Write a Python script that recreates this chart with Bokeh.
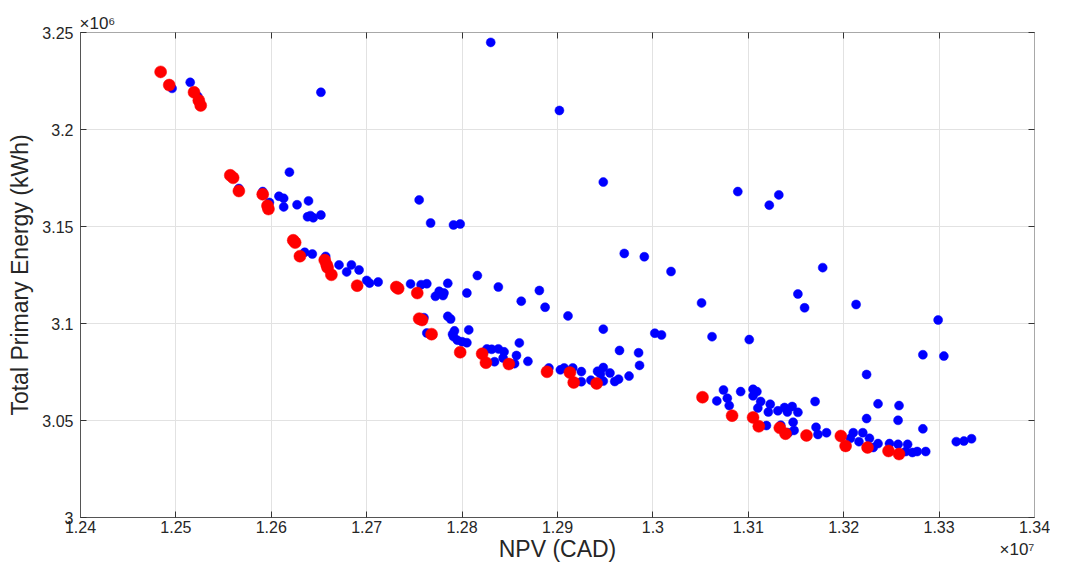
from bokeh.plotting import figure
from bokeh.models import FixedTicker, LinearAxis, Range1d, Title
from bokeh.embed import file_html
from bokeh.resources import INLINE

# ---- data: all design alternatives (blue) ----
npv_all = [
    1.2515e7, 1.2496e7, 1.2523e7, 1.2652e7, 1.2619e7, 1.2566e7, 1.2591e7, 1.2598e7, 1.2608e7, 1.2613e7,
    1.2613e7, 1.2627e7, 1.2639e7, 1.2638e7, 1.2641e7, 1.2652e7, 1.2644e7, 1.2635e7, 1.2643e7, 1.2657e7,
    1.2671e7, 1.2679e7, 1.2684e7, 1.2692e7, 1.2700e7, 1.2703e7, 1.2712e7, 1.2746e7, 1.2757e7, 1.2763e7,
    1.2785e7, 1.2772e7, 1.2776e7, 1.2781e7, 1.2780e7, 1.2755e7, 1.2767e7, 1.2791e7, 1.2798e7, 1.2830e7,
    1.2902e7, 1.2948e7, 1.2970e7, 1.2991e7, 1.3019e7, 1.2816e7, 1.2805e7, 1.2838e7, 1.2862e7, 1.2881e7,
    1.2887e7, 1.2911e7, 1.2948e7, 1.3002e7, 1.3009e7, 1.2760e7, 1.2785e7, 1.2788e7, 1.2807e7, 1.2763e7,
    1.2790e7, 1.2792e7, 1.2795e7, 1.2800e7, 1.2805e7, 1.2791e7, 1.2826e7, 1.2831e7, 1.2838e7, 1.2844e7,
    1.2834e7, 1.2843e7, 1.2857e7, 1.2860e7, 1.2869e7, 1.2855e7, 1.2891e7, 1.2903e7, 1.2907e7, 1.2916e7,
    1.2925e7, 1.2925e7, 1.2935e7, 1.2942e7, 1.2948e7, 1.2945e7, 1.2955e7, 1.2960e7, 1.2964e7, 1.2975e7,
    1.2948e7, 1.2965e7, 1.2985e7, 1.2986e7, 1.3051e7, 1.3062e7, 1.3101e7, 1.3089e7, 1.3122e7, 1.3132e7,
    1.3178e7, 1.3152e7, 1.3159e7, 1.3213e7, 1.3299e7, 1.3283e7, 1.3305e7, 1.3224e7, 1.3236e7, 1.3258e7,
    1.3224e7, 1.3257e7, 1.3283e7, 1.3170e7, 1.3318e7, 1.3326e7, 1.3334e7, 1.3074e7, 1.3067e7, 1.3078e7,
    1.3080e7, 1.3092e7, 1.3105e7, 1.3109e7, 1.3105e7, 1.3113e7, 1.3110e7, 1.3123e7, 1.3121e7, 1.3131e7,
    1.3138e7, 1.3146e7, 1.3141e7, 1.3152e7, 1.3119e7, 1.3134e7, 1.3147e7, 1.3148e7, 1.3142e7, 1.3171e7,
    1.3173e7, 1.3182e7, 1.3210e7, 1.3207e7, 1.3216e7, 1.3220e7, 1.3227e7, 1.3236e7, 1.3248e7, 1.3257e7,
    1.3267e7, 1.3265e7, 1.3272e7, 1.3277e7, 1.3286e7, 1.3231e7,
]
energy_all = [
    3.2243e6, 3.2212e6, 3.2171e6, 3.2192e6, 3.1780e6, 3.1696e6, 3.1680e6, 3.1624e6, 3.1656e6, 3.1645e6,
    3.1601e6, 3.1612e6, 3.1632e6, 3.1550e6, 3.1556e6, 3.1559e6, 3.1545e6, 3.1367e6, 3.1358e6, 3.1346e6,
    3.1302e6, 3.1266e6, 3.1302e6, 3.1276e6, 3.1222e6, 3.1208e6, 3.1214e6, 3.1204e6, 3.1200e6, 3.1205e6,
    3.1207e6, 3.1140e6, 3.1166e6, 3.1157e6, 3.1144e6, 3.1637e6, 3.1518e6, 3.1508e6, 3.1513e6, 3.2449e6,
    3.2098e6, 3.1729e6, 3.1361e6, 3.1344e6, 3.1268e6, 3.1247e6, 3.1157e6, 3.1188e6, 3.1115e6, 3.1170e6,
    3.1084e6, 3.1039e6, 3.0971e6, 3.0950e6, 3.0941e6, 3.1030e6, 3.1037e6, 3.1023e6, 3.0967e6, 3.0951e6,
    3.0945e6, 3.0962e6, 3.0914e6, 3.0906e6, 3.0901e6, 3.0932e6, 3.0869e6, 3.0867e6, 3.0869e6, 3.0854e6,
    3.0803e6, 3.0822e6, 3.0835e6, 3.0900e6, 3.0805e6, 3.0793e6, 3.0771e6, 3.0761e6, 3.0771e6, 3.0771e6,
    3.0752e6, 3.0700e6, 3.0708e6, 3.0754e6, 3.0773e6, 3.0740e6, 3.0745e6, 3.0701e6, 3.0713e6, 3.0729e6,
    3.0703e6, 3.0861e6, 3.0849e6, 3.0784e6, 3.1106e6, 3.0932e6, 3.0917e6, 3.1680e6, 3.1610e6, 3.1663e6,
    3.1288e6, 3.1152e6, 3.1081e6, 3.1098e6, 3.1018e6, 3.0839e6, 3.0832e6, 3.0737e6, 3.0586e6, 3.0577e6,
    3.0510e6, 3.0501e6, 3.0457e6, 3.0598e6, 3.0391e6, 3.0394e6, 3.0406e6, 3.0657e6, 3.0601e6, 3.0615e6,
    3.0577e6, 3.0649e6, 3.0661e6, 3.0649e6, 3.0627e6, 3.0598e6, 3.0564e6, 3.0584e6, 3.0544e6, 3.0550e6,
    3.0567e6, 3.0572e6, 3.0544e6, 3.0542e6, 3.0474e6, 3.0476e6, 3.0491e6, 3.0449e6, 3.0437e6, 3.0465e6,
    3.0428e6, 3.0437e6, 3.0437e6, 3.0408e6, 3.0391e6, 3.0437e6, 3.0408e6, 3.0381e6, 3.0381e6, 3.0377e6,
    3.0377e6, 3.0340e6, 3.0335e6, 3.0340e6, 3.0340e6, 3.0361e6,
]

# ---- data: Pareto-optimal designs (red) ----
npv_pareto = [
    1.2484e7, 1.2493e7, 1.2519e7, 1.2524e7, 1.2526e7, 1.2557e7, 1.2560e7, 1.2566e7, 1.2591e7, 1.2596e7,
    1.2597e7, 1.2623e7, 1.2625e7, 1.2630e7, 1.2656e7, 1.2658e7, 1.2659e7, 1.2663e7, 1.2690e7, 1.2731e7,
    1.2733e7, 1.2753e7, 1.2755e7, 1.2758e7, 1.2768e7, 1.2798e7, 1.2821e7, 1.2825e7, 1.2849e7, 1.2889e7,
    1.2913e7, 1.2917e7, 1.2941e7, 1.3052e7, 1.3083e7, 1.3105e7, 1.3111e7, 1.3133e7, 1.3139e7, 1.3161e7,
    1.3197e7, 1.3202e7, 1.3225e7, 1.3247e7, 1.3258e7,
]
energy_pareto = [
    3.2297e6, 3.2229e6, 3.2192e6, 3.2150e6, 3.2124e6, 3.1764e6, 3.1751e6, 3.1683e6, 3.1666e6, 3.1607e6,
    3.1590e6, 3.1429e6, 3.1417e6, 3.1347e6, 3.1327e6, 3.1303e6, 3.1288e6, 3.1251e6, 3.1195e6, 3.1188e6,
    3.1181e6, 3.1157e6, 3.1025e6, 3.1018e6, 3.0945e6, 3.0852e6, 3.0844e6, 3.0798e6, 3.0791e6, 3.0751e6,
    3.0747e6, 3.0696e6, 3.0691e6, 3.0620e6, 3.0525e6, 3.0516e6, 3.0470e6, 3.0462e6, 3.0432e6, 3.0423e6,
    3.0420e6, 3.0369e6, 3.0361e6, 3.0343e6, 3.0327e6,
]

# ---- axes ----
x_ticks = [1.24e7, 1.25e7, 1.26e7, 1.27e7, 1.28e7, 1.29e7, 1.30e7, 1.31e7, 1.32e7, 1.33e7, 1.34e7]
x_tick_labels = ["1.24", "1.25", "1.26", "1.27", "1.28", "1.29", "1.3", "1.31", "1.32", "1.33", "1.34"]
y_ticks = [3.0e6, 3.05e6, 3.1e6, 3.15e6, 3.2e6, 3.25e6]
y_tick_labels = ["3", "3.05", "3.1", "3.15", "3.2", "3.25"]
x_label = "NPV (CAD)"
y_label = "Total Primary Energy (kWh)"
x_exp = "\u00d710\u2077"
y_exp = "\u00d710\u2076"

FONT = "Liberation Sans"
TXT = "#262626"

p = figure(width=1050, height=564, output_backend="svg", toolbar_location=None,
           x_range=Range1d(x_ticks[0], x_ticks[-1]), y_range=Range1d(y_ticks[0], y_ticks[-1]),
           min_border_left=80, min_border_right=16, min_border_top=32, min_border_bottom=0,
           background_fill_color="white", border_fill_color="white")
p.outline_line_color = None

p.title.text = y_exp
p.title.align = "left"
p.title.text_font = FONT
p.title.text_font_size = "17px"
p.title.text_font_style = "normal"
p.title.text_color = TXT
p.title.standoff = 0
p.title.offset = -1


def style_axis(ax, ticks, labels, show_labels, line_color):
    ax.ticker = FixedTicker(ticks=ticks)
    ax.major_label_overrides = {t: l for t, l in zip(ticks, labels)}
    ax.minor_tick_line_color = None
    ax.major_tick_in = 6
    ax.major_tick_out = 0
    ax.major_tick_line_color = "#333333"
    ax.axis_line_color = line_color
    ax.major_label_text_font = FONT
    ax.major_label_text_color = TXT
    ax.major_label_text_font_size = "16px"
    if not show_labels:
        ax.major_label_text_color = None
        ax.major_label_standoff = 0


xa = p.xaxis[0]
ya = p.yaxis[0]
style_axis(xa, x_ticks, x_tick_labels, True, "#555555")
style_axis(ya, y_ticks, y_tick_labels, True, "#555555")
xa.major_label_standoff = 3
ya.major_label_standoff = 7
xa.axis_label = x_label
ya.axis_label = y_label
for ax in (xa, ya):
    ax.axis_label_text_font = FONT
    ax.axis_label_text_font_size = "23px"
    ax.axis_label_text_font_style = "normal"
    ax.axis_label_text_color = TXT
xa.axis_label_standoff = 0
ya.axis_label_standoff = 6

top = LinearAxis()
style_axis(top, x_ticks, x_tick_labels, False, "#a8a8a8")
p.add_layout(top, "above")
right = LinearAxis()
style_axis(right, y_ticks, y_tick_labels, False, "#a8a8a8")
p.add_layout(right, "right")

p.add_layout(Title(text=x_exp, align="right", vertical_align="top", text_font=FONT,
                   text_font_size="17px", text_font_style="normal", text_color=TXT,
                   standoff=-50), "below")

p.xgrid.ticker = FixedTicker(ticks=x_ticks)
p.ygrid.ticker = FixedTicker(ticks=y_ticks)
for g in (p.xgrid, p.ygrid):
    g.grid_line_color = "#e2e2e2"
    g.grid_line_width = 1

p.scatter(npv_all, energy_all, size=9, fill_color="#0000ff", line_color="#0000ff", line_width=0.5)
p.scatter(npv_pareto, energy_pareto, size=12, fill_color="#ff0000", line_color="#ff0000", line_width=0.5)

open("out.html", "w").write(file_html(p, INLINE))
